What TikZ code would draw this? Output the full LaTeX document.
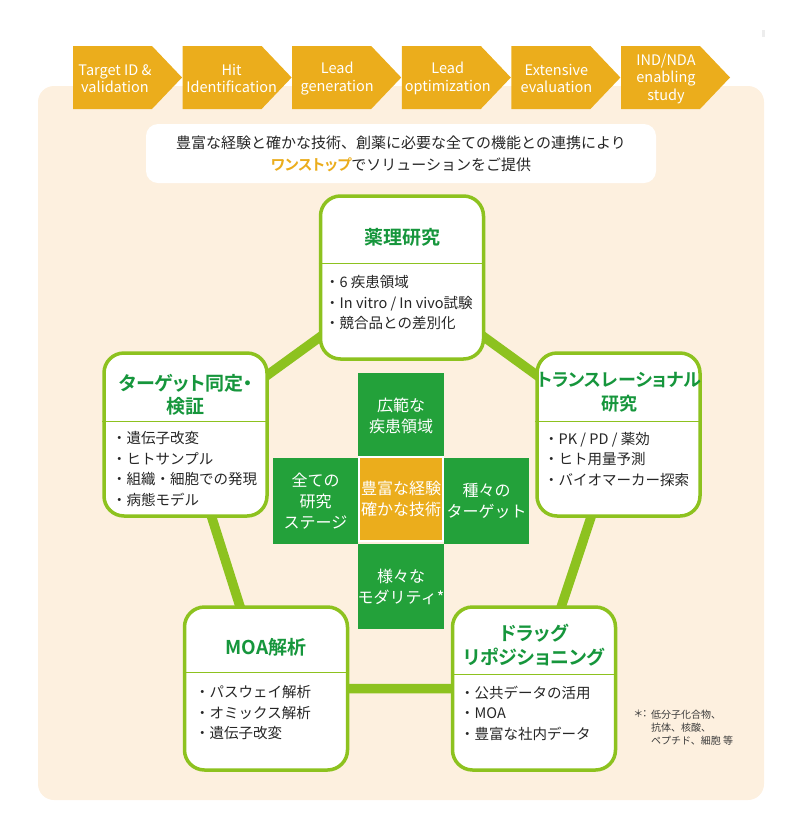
\documentclass[tikz,border=0pt]{standalone}
\usepackage{fontspec}
\setmainfont{Noto Sans CJK JP}[BoldFont={Noto Sans CJK JP Bold}]
\newfontfamily\jpprop{Noto Sans CJK JP}[BoldFont={Noto Sans CJK JP Bold},RawFeature={+palt}]

\definecolor{cream}{HTML}{FDF0DF}
\definecolor{amber}{HTML}{EBAD1C}
\definecolor{framelime}{HTML}{8DC21F}
\definecolor{crossgreen}{HTML}{23A13A}
\definecolor{titlegreen}{HTML}{16963C}
\definecolor{inktext}{HTML}{262626}
\definecolor{notegray}{HTML}{3A3A3A}

\pgfdeclarelayer{back}
\pgfdeclarelayer{bars}
\pgfsetlayers{back,bars,main}

\begin{document}
\begin{tikzpicture}[x=1pt,y=-1pt,
  chevtext/.style={text=white,align=center,inner sep=0,font=\fontsize{14.5}{17.5}\selectfont},
  stagebox/.style={draw=framelime,line width=3.5,fill=white,rounded corners=20,minimum width=163,minimum height=163},
  divider/.style={draw=framelime,line width=1.2},
  boxtitle/.style={text=titlegreen,align=center,inner sep=0,font=\jpprop\bfseries\fontsize{19}{23}\selectfont},
  boxitems/.style={text=inktext,align=left,anchor=west,inner sep=0,font=\fontsize{14.5}{20.5}\selectfont},
  cell/.style={fill=crossgreen,minimum width=85.5,minimum height=85.5,inner sep=0,text=white,align=center,font=\fontsize{16}{21}\selectfont},
  bar/.style={draw=framelime,line width=9.5,line join=round}]
\useasboundingbox (0,0) rectangle (800,831);

% background panel
\begin{pgfonlayer}{back}
\fill[cream,rounded corners=16] (38,86) rectangle (764,800);
\end{pgfonlayer}
\fill[black!7] (762,30) rectangle (765,37);

% drug discovery phases
\foreach \i/\dx/\txt in {0/42/{Target ID \&\\validation},1/49/{Hit\\Identification},2/45/{Lead\\generation},
                         3/46/{Lead\\optimization},4/45/{Extensive\\evaluation},5/45/{IND/NDA\\enabling\\study}} {
  \fill[amber] ({73+109.6*\i},46) -- ++(79,0) -- ++(30,31.5) -- ++(-30,31.5) -- ++(-79,0) -- cycle;
  \node[chevtext] (ph\i) at ({73+\dx+109.6*\i},78.5) {\txt};
}

% lead message
\node[fill=white,rounded corners=12,minimum width=510,minimum height=59,align=center,
      text=inktext,font=\fontsize{15}{22}\selectfont] (lead) at (401,153.5)
  {豊富な経験と確かな技術、創薬に必要な全ての機能との連携により\\
   {\jpprop\bfseries\color{amber}ワンストップ}でソリューションをご提供};

% five stages
\node[stagebox] (yakuri) at (402,277.5) {};
\node[stagebox] (target) at (185.5,434.5) {};
\node[stagebox] (trans) at (618.5,434.5) {};
\node[stagebox] (moa) at (266,688.5) {};
\node[stagebox] (drug) at (534,688.5) {};

\begin{pgfonlayer}{bars}
\draw[bar] (yakuri.center) -- (trans.center) -- (drug.center) -- (moa.center) -- (target.center) -- cycle;
\end{pgfonlayer}

\foreach \b/\d in {yakuri/69,target/70,trans/70,moa/67,drug/69}
  \draw[divider] ([yshift=-\d]\b.north west) -- ([yshift=-\d]\b.north east);

\node[boxtitle] (yakuri-t) at (402,237) {薬理研究};
\node[boxitems] (yakuri-i) at (325,302.5) {・6 疾患領域\\・In vitro / In vivo試験\\・競合品との差別化};

\node[boxtitle] (target-t) at (186,395) {ターゲット同定・\\検証};
\node[boxitems] (target-i) at (112,469) {・遺伝子改変\\・ヒトサンプル\\・組織・細胞での発現\\・病態モデル};

\node[boxtitle,font=\jpprop\bfseries\fontsize{18}{24}\selectfont] (trans-t) at (619,392.5) {トランスレーショナル\\研究};
\node[boxitems] (trans-i) at (544,459) {・PK / PD / 薬効\\・ヒト用量予測\\・バイオマーカー探索};

\node[boxtitle] (moa-t) at (266,647) {MOA解析};
\node[boxitems] (moa-i) at (195,713) {・パスウェイ解析\\・オミックス解析\\・遺伝子改変};

\node[boxtitle,font=\jpprop\bfseries\fontsize{19}{24}\selectfont] (drug-t) at (534,645) {ドラッグ\\リポジショニング};
\node[boxitems] (drug-i) at (460,713) {・公共データの活用\\・MOA\\・豊富な社内データ};

% strengths cross
\node[cell] (ctop) at (401,415.5) {広範な\\疾患領域};
\node[cell] (cleft) at (315.5,501) {全ての\\研究\\ステージ};
\node[cell] (cright) at (486.5,501) {種々の\\ターゲット};
\node[cell] (cbot) at (401,586.5) {様々な\\モダリティ*};
\node[cell,fill=amber,draw=white,line width=2,minimum width=84,minimum height=84] (ccore) at (401,499) {豊富な経験\\確かな技術};

% footnote
\node[anchor=north west,inner sep=0,text=notegray,font=\jpprop\fontsize{10}{13}\selectfont] (notemark) at (634,710) {＊：};
\node[anchor=north west,inner sep=0,align=left,text=notegray,font=\fontsize{10}{13}\selectfont] (note) at (651,710)
  {低分子化合物、\\抗体、核酸、\\ペプチド、細胞 等};
\end{tikzpicture}
\end{document}
